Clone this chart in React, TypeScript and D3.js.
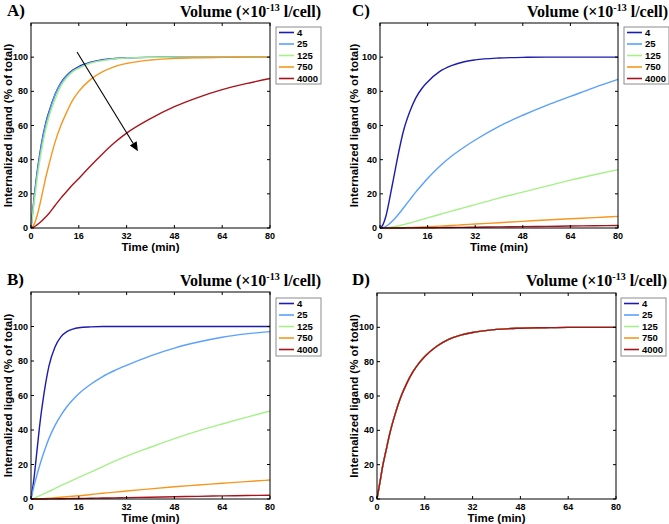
import React from 'react';
import * as d3 from 'd3';

const TIME = [0, 1, 2, 3, 4, 5, 6, 8, 10, 12, 14, 16, 20, 24, 28, 32, 40, 48, 56, 64, 72, 80];
const SERIES_NAMES = ['4', '25', '125', '750', '4000'];
const COLORS = ['#1c1cae', '#5aa0ff', '#a6f08a', '#f7961e', '#a8141c'];
const X_TICKS = [0, 16, 32, 48, 64, 80];
const Y_TICKS = [0, 20, 40, 60, 80, 100];

// Panel A
const A_4 = [0, 17, 32, 44, 54, 62, 68, 78, 85, 89.5, 92.5, 94.5, 97, 98.5, 99.2, 99.6, 99.9, 100, 100, 100, 100, 100];
const A_25 = [0, 16, 31, 43, 53, 61, 67, 77.5, 84.5, 89, 92, 94, 96.8, 98.3, 99.1, 99.5, 99.9, 100, 100, 100, 100, 100];
const A_125 = [0, 14, 28, 40, 50, 58, 65, 75, 83, 88, 91.5, 93.5, 96.5, 98, 99, 99.5, 99.9, 100, 100, 100, 100, 100];
const A_750 = [0, 2, 7, 14, 22, 30, 37, 50, 60, 68, 75, 80, 87, 91.5, 94.5, 96.3, 98.3, 99.3, 99.7, 99.9, 100, 100];
const A_4000 = [0, 0.6, 1.8, 3.2, 4.8, 6.6, 8.5, 13, 17.5, 21.5, 25.5, 29, 36.5, 43.5, 50, 55.5, 64, 71, 76.5, 81, 84.5, 87.5];

// Panel B
const B_4 = [0, 12, 28, 44, 57, 68, 77, 88, 94, 97, 98.5, 99.3, 99.8, 100, 100, 100, 100, 100, 100, 100, 100, 100];
const B_25 = [0, 7.5, 14, 20, 25.5, 30.5, 35, 42.5, 48.5, 53.5, 57.5, 61, 66.5, 71, 74.5, 77.5, 83, 87.5, 91, 93.8, 95.7, 97];
const B_125 = [0, 0.4, 1.2, 2, 2.8, 3.6, 4.4, 6, 7.7, 9.3, 10.9, 12.5, 15.6, 18.8, 21.9, 24.8, 30, 35, 39.5, 43.5, 47.3, 51];
const B_750 = [0, 0, 0.05, 0.1, 0.2, 0.3, 0.4, 0.7, 1, 1.3, 1.6, 1.9, 2.6, 3.3, 4, 4.6, 5.9, 7.1, 8.1, 9.1, 10.1, 11];
const B_4000 = [0, 0, 0, 0, 0.02, 0.03, 0.05, 0.1, 0.15, 0.2, 0.25, 0.3, 0.42, 0.55, 0.68, 0.8, 1.05, 1.3, 1.55, 1.8, 2, 2.2];

// Panel C
const C_4 = [0, 2, 7, 15, 24, 33, 42, 57.5, 68, 76, 81.5, 85.5, 91.5, 95, 97.2, 98.4, 99.5, 99.9, 100, 100, 100, 100];
const C_25 = [0, 0.3, 1, 2.2, 3.8, 5.6, 7.6, 12, 16.5, 21, 25, 29, 36, 42, 47, 51.5, 59.5, 66, 71.8, 77, 82.2, 87];
const C_125 = [0, 0.05, 0.15, 0.35, 0.6, 0.9, 1.2, 2, 2.9, 3.9, 4.9, 5.9, 7.9, 9.9, 11.8, 13.7, 17.5, 21, 24.5, 28, 31.2, 34.2];
const C_750 = [0, 0, 0, 0.02, 0.05, 0.08, 0.12, 0.2, 0.3, 0.45, 0.6, 0.75, 1.1, 1.5, 1.9, 2.3, 3.1, 3.9, 4.7, 5.4, 6.1, 6.8];
const C_4000 = [0, 0, 0, 0, 0, 0.01, 0.02, 0.04, 0.06, 0.09, 0.12, 0.15, 0.22, 0.3, 0.38, 0.46, 0.63, 0.8, 0.98, 1.15, 1.32, 1.5];

// Panel D (all five volumes coincide)
const D_ALL = [0, 10, 20, 28, 36, 43, 49, 59.5, 67.5, 74, 79, 83, 89, 93, 95.5, 97, 98.8, 99.5, 99.8, 100, 100, 100];

const SANS = "'Liberation Sans', Arial, sans-serif";
const SERIF = "'Liberation Serif', 'Times New Roman', serif";

type PanelProps = {
  letter: string;
  letterX: number;
  titleRight: number;
  titleY: number;
  plot: { l: number; r: number; t: number; b: number };
  ylabelX: number;
  legend: { x: number; y: number; w: number; h: number };
  data: number[][];
  arrow?: { from: [number, number]; to: [number, number] };
};

function Panel(p: PanelProps) {
  const { l, r, t, b } = p.plot;
  const x = d3.scaleLinear().domain([0, 80]).range([l, r]);
  const y = d3.scaleLinear().domain([0, 120]).range([b, t]);
  const line = d3
    .line<number>()
    .x((_, i) => x(TIME[i]))
    .y((d) => y(d))
    .curve(d3.curveMonotoneX);
  const tk = 3;
  let arrowEl = null;
  if (p.arrow) {
    const x1 = x(p.arrow.from[0]);
    const y1 = y(p.arrow.from[1]);
    const x2 = x(p.arrow.to[0]);
    const y2 = y(p.arrow.to[1]);
    const ang = Math.atan2(y2 - y1, x2 - x1);
    const L = 9;
    const W = 4;
    const bx = x2 - L * Math.cos(ang);
    const by = y2 - L * Math.sin(ang);
    const px = -Math.sin(ang) * W;
    const py = Math.cos(ang) * W;
    arrowEl = (
      <g>
        <line x1={x1} y1={y1} x2={bx} y2={by} stroke="#000" strokeWidth={1.1} />
        <polygon points={`${x2},${y2} ${bx + px},${by + py} ${bx - px},${by - py}`} fill="#000" />
      </g>
    );
  }
  const cy = (t + b) / 2;
  return (
    <g>
      <text x={p.letterX} y={p.titleY} fontFamily={SERIF} fontWeight="bold" fontSize={17}>
        {p.letter}
      </text>
      <text x={p.titleRight} y={p.titleY + 1} fontFamily={SERIF} fontWeight="bold" fontSize={16} textAnchor="end">
        Volume (×10
        <tspan dy={-6} fontSize={10}>-13</tspan>
        <tspan dy={6}> l/cell)</tspan>
      </text>
      <g>
        {p.data.map((d, i) => (
          <path key={i} d={line(d) || ''} fill="none" stroke={COLORS[i]} strokeWidth={1.4} />
        ))}
      </g>
      {arrowEl}
      <rect x={l} y={t} width={r - l} height={b - t} fill="none" stroke="#000" strokeWidth={1} />
      {X_TICKS.map((v) => (
        <g key={'x' + v}>
          <line x1={x(v)} x2={x(v)} y1={b} y2={b - tk} stroke="#000" />
          <line x1={x(v)} x2={x(v)} y1={t} y2={t + tk} stroke="#000" />
          <text x={x(v)} y={b + 11} fontFamily={SANS} fontWeight="bold" fontSize={9} textAnchor="middle">
            {v}
          </text>
        </g>
      ))}
      {Y_TICKS.map((v) => (
        <g key={'y' + v}>
          <line x1={l} x2={l + tk} y1={y(v)} y2={y(v)} stroke="#000" />
          <line x1={r} x2={r - tk} y1={y(v)} y2={y(v)} stroke="#000" />
          <text x={l - 3} y={y(v) + 3} fontFamily={SANS} fontWeight="bold" fontSize={9} textAnchor="end">
            {v}
          </text>
        </g>
      ))}
      <text x={(l + r) / 2} y={b + 23} fontFamily={SANS} fontWeight="bold" fontSize={11.5} textAnchor="middle">
        Time (min)
      </text>
      <text
        transform={`translate(${p.ylabelX + 4},${cy}) rotate(-90)`}
        fontFamily={SANS}
        fontWeight="bold"
        fontSize={11.5}
        textAnchor="middle"
      >
        Internalized ligand (% of total)
      </text>
      <rect x={p.legend.x} y={p.legend.y} width={p.legend.w} height={p.legend.h} fill="#fff" stroke="#8c8c8c" strokeWidth={1} />
      {SERIES_NAMES.map((n, i) => {
        const ry = p.legend.y + 5.5 + i * 11.5;
        return (
          <g key={n}>
            <line x1={p.legend.x + 3} x2={p.legend.x + 18} y1={ry} y2={ry} stroke={COLORS[i]} strokeWidth={1.6} />
            <text x={p.legend.x + 21} y={ry + 3.3} fontFamily={SANS} fontWeight="bold" fontSize={9.5}>
              {n}
            </text>
          </g>
        );
      })}
    </g>
  );
}

export default function App() {
  return (
    <svg width={669} height={524} style={{ position: 'absolute', left: 0, top: 0, background: '#fff' }}>
      <rect x={0} y={0} width={669} height={524} fill="#fff" />
      <Panel
        letter="A)"
        letterX={7}
        titleRight={321}
        titleY={16}
        plot={{ l: 31, r: 270, t: 23, b: 228 }}
        ylabelX={7.5}
        legend={{ x: 276, y: 27, w: 45, h: 57 }}
        data={[A_4, A_25, A_125, A_750, A_4000]}
        arrow={{ from: [15.4, 103], to: [35.8, 45] }}
      />
      <Panel
        letter="C)"
        letterX={352}
        titleRight={668}
        titleY={16}
        plot={{ l: 380, r: 618, t: 23, b: 228 }}
        ylabelX={354}
        legend={{ x: 624, y: 27, w: 45, h: 57 }}
        data={[C_4, C_25, C_125, C_750, C_4000]}
      />
      <Panel
        letter="B)"
        letterX={7}
        titleRight={321}
        titleY={285}
        plot={{ l: 31, r: 270, t: 292, b: 499 }}
        ylabelX={7.5}
        legend={{ x: 276, y: 298, w: 45, h: 58 }}
        data={[B_4, B_25, B_125, B_750, B_4000]}
      />
      <Panel
        letter="D)"
        letterX={352}
        titleRight={667}
        titleY={285}
        plot={{ l: 377, r: 616, t: 293, b: 499 }}
        ylabelX={354}
        legend={{ x: 621, y: 298, w: 45, h: 58 }}
        data={[D_ALL, D_ALL, D_ALL, D_ALL, D_ALL]}
      />
    </svg>
  );
}
